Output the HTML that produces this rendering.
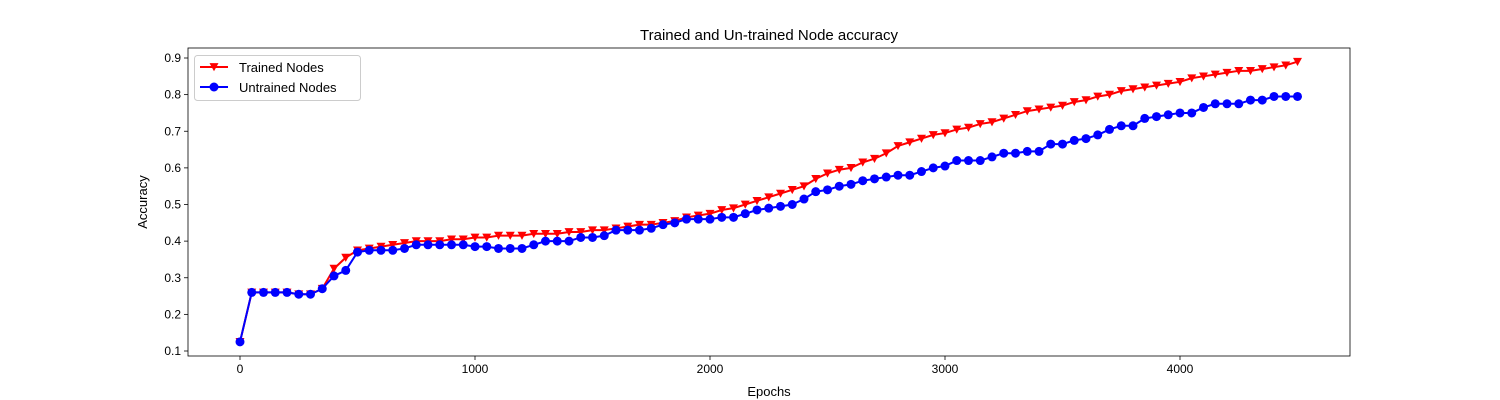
<!DOCTYPE html>
<html><head><meta charset="utf-8"><style>
body{margin:0;background:#fff;}
svg{display:block;font-family:"Liberation Sans","DejaVu Sans",sans-serif;}
</style></head><body>
<svg id="chart" width="1500" height="400"></svg>
<script>
const epochs = Array.from({length:91},(_,i)=>i*50);
const trainedAcc = [0.125,0.26,0.26,0.26,0.26,0.255,0.255,0.27,0.325,0.355,0.375,0.38,0.385,0.39,0.395,0.4,0.4,0.4,0.405,0.405,0.41,0.41,0.415,0.415,0.415,0.42,0.42,0.42,0.425,0.425,0.43,0.43,0.435,0.44,0.445,0.445,0.45,0.455,0.465,0.47,0.475,0.485,0.49,0.5,0.51,0.52,0.53,0.54,0.55,0.57,0.585,0.595,0.6,0.615,0.625,0.64,0.66,0.67,0.68,0.69,0.695,0.705,0.71,0.72,0.725,0.735,0.745,0.755,0.76,0.765,0.77,0.78,0.785,0.795,0.8,0.81,0.815,0.82,0.825,0.83,0.835,0.845,0.85,0.855,0.86,0.865,0.865,0.87,0.875,0.88,0.89];
const untrainedAcc = [0.125,0.26,0.26,0.26,0.26,0.255,0.255,0.27,0.305,0.32,0.37,0.375,0.375,0.375,0.38,0.39,0.39,0.39,0.39,0.39,0.385,0.385,0.38,0.38,0.38,0.39,0.4,0.4,0.4,0.41,0.41,0.415,0.43,0.43,0.43,0.435,0.445,0.45,0.46,0.46,0.46,0.465,0.465,0.475,0.485,0.49,0.495,0.5,0.515,0.535,0.54,0.55,0.555,0.565,0.57,0.575,0.58,0.58,0.59,0.6,0.605,0.62,0.62,0.62,0.63,0.64,0.64,0.645,0.645,0.665,0.665,0.675,0.68,0.69,0.705,0.715,0.715,0.735,0.74,0.745,0.75,0.75,0.765,0.775,0.775,0.775,0.785,0.785,0.795,0.795,0.795];
const xTicks = [0,1000,2000,3000,4000];
const yTicks = [0.1,0.2,0.3,0.4,0.5,0.6,0.7,0.8,0.9];

const NS="http://www.w3.org/2000/svg";
const svg=document.getElementById('chart');
const L=188,R=1350,T=48,B=356;
const xs=v=>240+(v/4000)*(1180-240);
const ys=v=>351-(v-0.1)/0.8*(351-58);
function el(tag,attrs,parent){const e=document.createElementNS(NS,tag);for(const k in attrs)e.setAttribute(k,attrs[k]);(parent||svg).appendChild(e);return e;}

const title=el('text',{x:769,y:40,'text-anchor':'middle','font-size':15});
title.textContent='Trained and Un-trained Node accuracy';



xTicks.forEach(t=>{
  const x=xs(t);
  const tk=el('line',{x1:x,x2:x,y1:B,y2:B+4,stroke:'#000','stroke-width':0.8});
  
  
  const lb=el('text',{x:x,y:B+17,'text-anchor':'middle','font-size':12});
  lb.textContent=t;
  
  
});
yTicks.forEach(t=>{
  const y=ys(t);
  const tk=el('line',{x1:L-4,x2:L,y1:y,y2:y,stroke:'#000','stroke-width':0.8});
  
  
  const lb=el('text',{x:L-7,y:y+4,'text-anchor':'end','font-size':12});
  lb.textContent=t.toFixed(1);
  
  
});
const xt=el('text',{x:769,y:396,'text-anchor':'middle','font-size':13});
xt.textContent='Epochs';


const yt=el('text',{x:147,y:202,'text-anchor':'middle','font-size':13,transform:'rotate(-90 147 202)'});
yt.textContent='Accuracy';



function tri(g,x,y,c){const s=4.5;el('polygon',{points:`${x-s},${y-s*0.85} ${x+s},${y-s*0.85} ${x},${y+s*0.95}`,fill:c},g);}
function series(vals,color,name,marker){
  const g=el('g',{});
  
  
  el('polyline',{points:vals.map((v,i)=>xs(epochs[i])+','+ys(v)).join(' '),fill:'none',stroke:color,'stroke-width':2},g);
  vals.forEach((v,i)=>{
    const x=xs(epochs[i]),y=ys(v);
    if(marker==='tri')tri(g,x,y,color);else el('circle',{cx:x,cy:y,r:4.5,fill:color},g);
  });
}
series(trainedAcc,'#ff0000','trained-nodes-series','tri');
series(untrainedAcc,'#0000ff','untrained-nodes-series','circle');

const frame=el('rect',{x:L,y:T,width:R-L,height:B-T,fill:'none',stroke:'#000','stroke-width':0.8});



const lg=el('g',{});


el('rect',{x:194.5,y:55.5,width:166,height:45,rx:3,fill:'#fff',stroke:'#ccc'},lg);
el('line',{x1:200,x2:228,y1:67,y2:67,stroke:'#ff0000','stroke-width':2},lg);
tri(lg,214,67,'#ff0000');
const t1=el('text',{x:239,y:72,'font-size':13},lg);t1.textContent='Trained Nodes';


el('line',{x1:200,x2:228,y1:87,y2:87,stroke:'#0000ff','stroke-width':2},lg);
el('circle',{cx:214,cy:87,r:4.5,fill:'#0000ff'},lg);
const t2=el('text',{x:239,y:92,'font-size':13},lg);t2.textContent='Untrained Nodes';


</script>
</body></html>
